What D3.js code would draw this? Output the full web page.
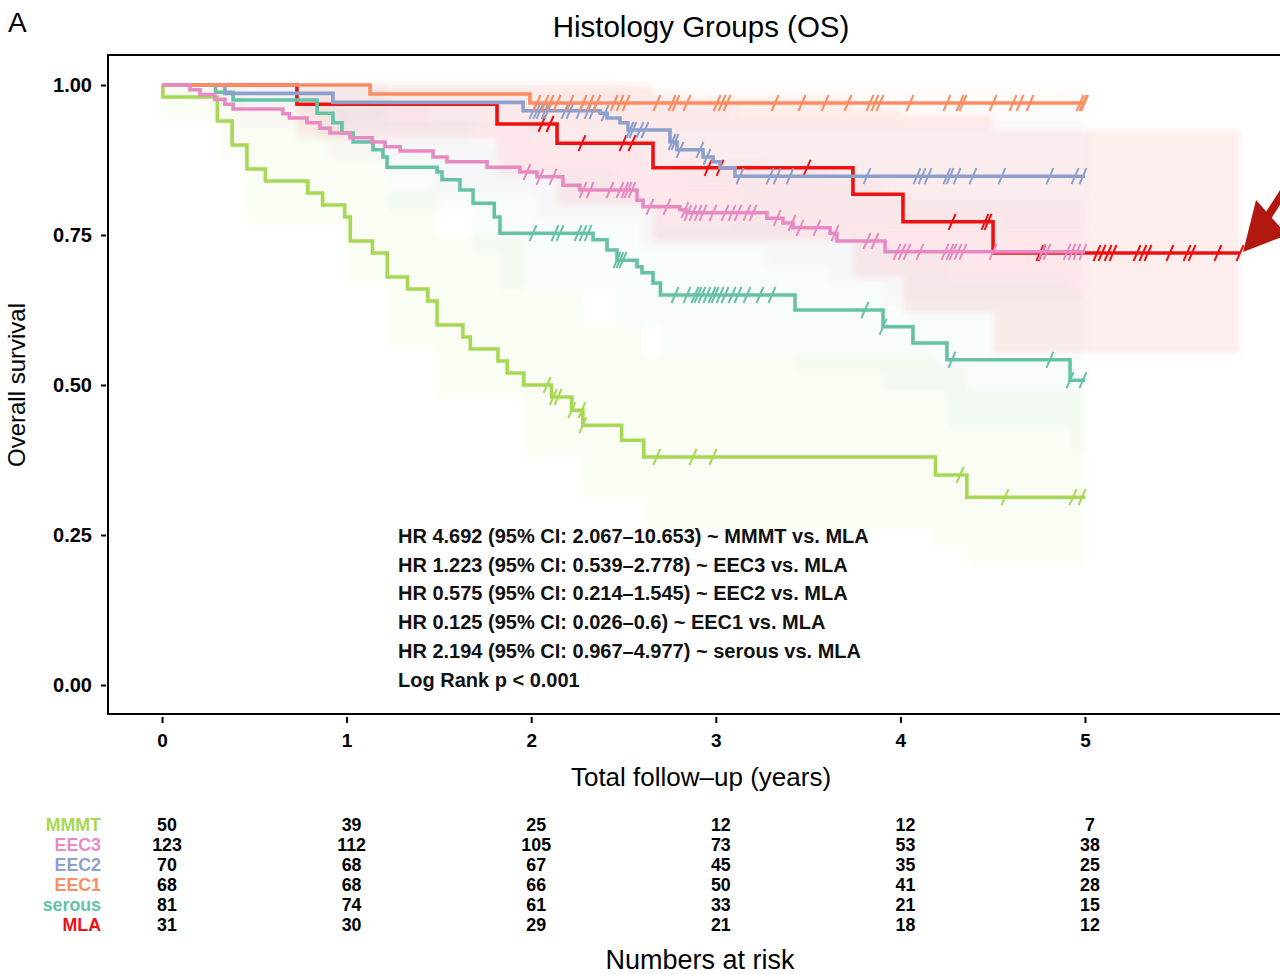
<!DOCTYPE html>
<html>
<head>
<meta charset="utf-8">
<script src="https://cdn.jsdelivr.net/npm/d3@7"></script>
<style>
  html, body { margin: 0; padding: 0; background: #fff; }
  svg { display: block; font-family: "Liberation Sans", Arial, Helvetica, sans-serif; }
</style>
</head>
<body>
<svg id="chart" width="1280" height="974"></svg>
<script>
// ---- groups and colours ----
const groupNames = ["MMMT", "EEC3", "EEC2", "EEC1", "serous", "MLA"];
const groupColors = ["#a6d854", "#e78ac3", "#8da0cb", "#fc8d62", "#66c2a5", "#ee1111"];
const groupEnd = [5.0, 5.0, 5.0, 5.0, 5.0, 5.84];
// drawing order of the curves, bottom to top (indices into groupNames)
const drawOrder = [5, 0, 4, 2, 3, 1];

// ---- Kaplan-Meier steps: [time (years), survival after the event] ----
const stepsMMMT = [[0.005,0.98],[0.30,0.94],[0.38,0.90],[0.46,0.86],[0.56,0.84],[0.79,0.82],[0.87,0.80],
  [0.99,0.78],[1.02,0.74],[1.14,0.72],[1.22,0.68],[1.33,0.66],[1.44,0.64],[1.49,0.60],[1.63,0.58],
  [1.67,0.56],[1.82,0.54],[1.87,0.52],[1.96,0.50],[2.11,0.48],[2.22,0.458],[2.28,0.433],[2.49,0.408],
  [2.61,0.38],[4.19,0.35],[4.36,0.313]];
const stepsEEC3 = [[0.152,0.992],[0.206,0.984],[0.287,0.976],[0.341,0.968],[0.385,0.96],[0.655,0.952],
  [0.69,0.945],[0.785,0.937],[0.856,0.928],[0.91,0.92],[1.018,0.912],[1.138,0.905],[1.208,0.897],
  [1.29,0.89],[1.468,0.88],[1.544,0.872],[1.761,0.863],[1.939,0.855],[2.031,0.847],[2.172,0.833],
  [2.264,0.825],[2.573,0.808],[2.606,0.797],[2.806,0.792],[2.839,0.787],[3.277,0.778],[3.364,0.77],
  [3.418,0.762],[3.619,0.753],[3.656,0.74],[3.917,0.722]];
const stepsEEC2 = [[0.341,0.986],[0.926,0.971],[1.956,0.957],[2.373,0.953],[2.411,0.945],[2.481,0.937],
  [2.524,0.925],[2.752,0.905],[2.79,0.892],[2.931,0.88],[2.985,0.872],[3.023,0.862],[3.104,0.848]];
const stepsEEC1 = [[1.127,0.985],[1.993,0.97]];
const stepsSerous = [[0.29,0.988],[0.385,0.975],[0.84,0.953],[0.926,0.937],[0.975,0.92],[1.035,0.905],
  [1.143,0.892],[1.197,0.88],[1.219,0.863],[1.49,0.855],[1.517,0.842],[1.614,0.825],[1.685,0.803],
  [1.80,0.78],[1.831,0.753],[2.335,0.742],[2.411,0.725],[2.465,0.708],[2.573,0.697],[2.60,0.687],
  [2.66,0.67],[2.70,0.65],[3.429,0.625],[3.906,0.597],[4.068,0.57],[4.252,0.542],[4.919,0.508]];
const stepsMLA = [[0.731,0.968],[1.815,0.935],[2.14,0.903],[2.66,0.862],[3.743,0.818],[4.014,0.772],[4.502,0.72]];

// ---- censoring times (years) ----
const censorMMMT = [2.086,2.12,2.145,2.22,2.275,2.28,2.68,2.876,2.985,4.323,4.567,4.935,4.984];
const censorEEC3 = [1.977,2.048,2.118,2.281,2.319,2.427,2.481,2.508,2.524,2.546,2.643,2.735,2.833,2.849,
  2.876,2.904,2.931,2.985,3.05,3.088,3.12,3.169,3.202,3.332,3.413,3.456,3.548,3.646,3.819,3.862,3.982,
  4.009,4.036,4.106,4.242,4.269,4.285,4.312,4.339,4.502,4.767,4.794,4.903,4.93,4.957,4.989];
const censorEEC2 = [2.01,2.031,2.048,2.075,2.091,2.183,2.21,2.264,2.308,2.335,2.4,2.535,2.551,2.589,2.616,
  2.763,2.779,2.806,2.914,2.952,3.131,3.294,3.332,3.402,3.819,4.09,4.117,4.15,4.252,4.269,4.307,4.393,
  4.55,4.81,4.946,4.989];
const censorEEC1 = [2.031,2.075,2.102,2.14,2.21,2.281,2.319,2.356,2.449,2.481,2.514,2.681,2.763,2.784,2.844,
  3.007,3.034,3.061,3.321,3.467,3.592,3.716,3.835,3.862,3.889,4.052,4.252,4.323,4.339,4.502,4.61,4.648,
  4.702,4.973,4.989,4.998];
const censorSerous = [2.01,2.129,2.156,2.254,2.281,2.308,2.465,2.481,2.497,2.779,2.844,2.887,2.903,2.925,
  2.952,2.979,2.996,3.023,3.05,3.088,3.12,3.169,3.239,3.304,3.808,3.906,4.279,4.81,4.919,4.989];
const censorMLA = [2.058,2.102,2.275,2.497,2.546,2.958,3.023,3.494,4.28,4.458,4.475,4.756,4.767,5.065,5.092,
  5.125,5.152,5.282,5.314,5.341,5.46,5.553,5.58,5.72,5.84];

// ---- 95% confidence bands: [time, lower, upper] ----
const bandMMMT = [[0,1,1],[0.005,0.94,1],[0.30,0.88,1],[0.46,0.77,0.96],[0.99,0.67,0.90],[1.22,0.56,0.82],
  [1.49,0.48,0.75],[1.96,0.38,0.66],[2.28,0.31,0.60],[2.61,0.26,0.55],[4.19,0.23,0.53],[4.36,0.20,0.49]];
const bandEEC3 = [[0,1,1],[0.152,0.976,1],[0.385,0.93,0.99],[0.91,0.875,0.965],[1.468,0.82,0.94],
  [2.031,0.78,0.91],[2.606,0.73,0.87],[3.277,0.70,0.86],[3.619,0.67,0.84],[3.917,0.64,0.81]];
const bandEEC2 = [[0,1,1],[0.341,0.96,1],[0.926,0.93,1],[1.956,0.91,1],[2.524,0.87,0.99],[2.79,0.83,0.97],
  [3.104,0.76,0.94]];
const bandEEC1 = [[0,1,1],[1.127,0.957,1],[1.993,0.93,1]];
const bandSerous = [[0,1,1],[0.29,0.96,1],[0.84,0.91,1],[1.219,0.79,0.94],[1.685,0.72,0.90],
  [1.831,0.66,0.86],[2.465,0.60,0.81],[2.70,0.55,0.77],[3.429,0.52,0.75],[3.906,0.49,0.73],
  [4.252,0.43,0.68],[4.919,0.39,0.66]];
const bandMLA = [[0,1,1],[0.731,0.91,1],[1.815,0.85,1],[2.14,0.80,1],[2.66,0.74,0.98],[3.743,0.68,0.96],
  [4.014,0.62,0.95],[4.502,0.553,0.925]];
const bandOpacity = [0.06, 0.05, 0.035, 0.03, 0.045, 0.07];

// ---- axis ticks and risk table ----
const xTicks = [0, 1, 2, 3, 4, 5];
const yTicks = [0, 0.25, 0.5, 0.75, 1];
const riskMMMT = [50, 39, 25, 12, 12, 7];
const riskEEC3 = [123, 112, 105, 73, 53, 38];
const riskEEC2 = [70, 68, 67, 45, 35, 25];
const riskEEC1 = [68, 68, 66, 50, 41, 28];
const riskSerous = [81, 74, 61, 33, 21, 15];
const riskMLA = [31, 30, 29, 21, 18, 12];

const hrLines = [
  "HR 4.692 (95% CI: 2.067\u201310.653) ~ MMMT vs. MLA",
  "HR 1.223 (95% CI: 0.539\u20132.778) ~ EEC3 vs. MLA",
  "HR 0.575 (95% CI: 0.214\u20131.545) ~ EEC2 vs. MLA",
  "HR 0.125 (95% CI: 0.026\u20130.6) ~ EEC1 vs. MLA",
  "HR 2.194 (95% CI: 0.967\u20134.977) ~ serous vs. MLA",
  "Log Rank p < 0.001"
];

const allSteps = [stepsMMMT, stepsEEC3, stepsEEC2, stepsEEC1, stepsSerous, stepsMLA];
const allCensor = [censorMMMT, censorEEC3, censorEEC2, censorEEC1, censorSerous, censorMLA];
const allBands = [bandMMMT, bandEEC3, bandEEC2, bandEEC1, bandSerous, bandMLA];
const allRisk = [riskMMMT, riskEEC3, riskEEC2, riskEEC1, riskSerous, riskMLA];

// ---- layout ----
const svg = d3.select("#chart");
const frame = { left: 108, top: 55, bottom: 714, right: 1290 };
const x = d3.scaleLinear().domain([0, 5]).range([162, 1085]);
const y = d3.scaleLinear().domain([0, 1]).range([685, 85]);

// survival value at time t from a step list
function survAt(steps, t) {
  let s = 1;
  for (const [ti, si] of steps) { if (ti <= t) s = si; else break; }
  return s;
}

const defs = svg.append("defs");
defs.append("clipPath").attr("id", "plotClip")
  .append("rect").attr("x", frame.left + 1).attr("y", frame.top + 1)
  .attr("width", frame.right - frame.left).attr("height", frame.bottom - frame.top - 2);
defs.append("filter").attr("id", "soft").attr("x", "-5%").attr("y", "-5%").attr("width", "110%").attr("height", "110%")
  .append("feGaussianBlur").attr("stdDeviation", 3);

const inner = svg.append("g").attr("clip-path", "url(#plotClip)");

// confidence bands
const area = d3.area().curve(d3.curveStepAfter)
  .x(d => x(d[0])).y0(d => y(d[1])).y1(d => y(d[2]));
const bandLayer = inner.append("g").attr("filter", "url(#soft)");
allBands.forEach((band, i) => {
  const last = band[band.length - 1];
  const pts = band.concat([[groupEnd[i], last[1], last[2]]]);
  bandLayer.append("path").attr("d", area(pts))
    .attr("fill", groupColors[i]).attr("fill-opacity", bandOpacity[i]).attr("stroke", "none");
});

// survival curves with censor marks
const line = d3.line().curve(d3.curveStepAfter).x(d => x(d[0])).y(d => y(d[1]));
drawOrder.forEach(i => {
  const steps = allSteps[i];
  const last = steps[steps.length - 1];
  const pts = [[0, 1]].concat(steps, [[groupEnd[i], last[1]]]);
  const g = inner.append("g");
  g.append("path").attr("d", line(pts))
    .attr("fill", "none").attr("stroke", groupColors[i])
    .attr("stroke-width", 3.6).attr("stroke-linejoin", "miter");
  g.selectAll("line").data(allCensor[i]).join("line")
    .attr("x1", d => x(d) - 3.5).attr("y1", d => y(survAt(steps, d)) + 8)
    .attr("x2", d => x(d) + 3.5).attr("y2", d => y(survAt(steps, d)) - 8)
    .attr("stroke", groupColors[i]).attr("stroke-width", 2);
});

// frame (open on the right)
svg.append("path")
  .attr("d", `M${frame.right},${frame.top}H${frame.left}V${frame.bottom}H${frame.right}`)
  .attr("fill", "none").attr("stroke", "#000").attr("stroke-width", 2);

// axes
const yAxis = d3.axisLeft(y).tickValues(yTicks).tickFormat(d3.format(".2f")).tickSize(5).tickPadding(9);
const yg = svg.append("g").attr("transform", `translate(${frame.left - 2},0)`).call(yAxis);
yg.select(".domain").remove();
yg.selectAll(".tick line").attr("stroke", "#000").attr("stroke-width", 2);
yg.selectAll(".tick text").attr("font-size", 20).attr("font-weight", "bold").attr("fill", "#000")
  .attr("font-family", "Liberation Sans, Arial, sans-serif");

const xAxis = d3.axisBottom(x).tickValues(xTicks).tickFormat(d3.format("d")).tickSize(6).tickPadding(11);
const xg = svg.append("g").attr("transform", `translate(0,${frame.bottom + 3})`).call(xAxis);
xg.select(".domain").remove();
xg.selectAll(".tick line").attr("stroke", "#000").attr("stroke-width", 2);
xg.selectAll(".tick text").attr("font-size", 19).attr("font-weight", "bold").attr("fill", "#000")
  .attr("font-family", "Liberation Sans, Arial, sans-serif");

// titles
svg.append("text").attr("x", 8).attr("y", 32).attr("font-size", 28).text("A");
svg.append("text").attr("x", 701).attr("y", 37).attr("text-anchor", "middle")
  .attr("font-size", 29.5).text("Histology Groups (OS)");
svg.append("text").attr("transform", "translate(25,385) rotate(-90)").attr("text-anchor", "middle")
  .attr("font-size", 24).text("Overall survival");
svg.append("text").attr("x", 701).attr("y", 786).attr("text-anchor", "middle")
  .attr("font-size", 26).text("Total follow\u2013up (years)");

// hazard ratio annotations
svg.append("g").selectAll("text").data(hrLines).join("text")
  .attr("x", 398).attr("y", (d, i) => 543 + i * 28.7)
  .attr("font-size", 20).attr("font-weight", "bold").attr("fill", "#111")
  .text(d => d);

// risk table
const rowY = i => 831 + i * 20;
svg.append("g").selectAll("text").data(groupNames).join("text")
  .attr("x", 101).attr("y", (d, i) => rowY(i)).attr("text-anchor", "end")
  .attr("font-size", 17.8).attr("font-weight", "bold").attr("fill", (d, i) => groupColors[i])
  .text(d => d);
allRisk.forEach((row, i) => {
  svg.append("g").selectAll("text").data(row).join("text")
    .attr("x", (d, j) => x(xTicks[j]) + 5).attr("y", rowY(i)).attr("text-anchor", "middle")
    .attr("font-size", 17.8).attr("font-weight", "bold").attr("fill", "#000")
    .text(d => d);
});
svg.append("text").attr("x", 700).attr("y", 969).attr("text-anchor", "middle")
  .attr("font-size", 27).text("Numbers at risk");

// pointer arrow towards the MLA curve end
const tip = [x(5.84) + 3, y(0.72) - 1];
svg.append("line").attr("x1", 1300).attr("y1", 166).attr("x2", tip[0] + 20).attr("y2", tip[1] - 28)
  .attr("stroke", "#b2180f").attr("stroke-width", 8);
svg.append("path")
  .attr("d", `M${tip[0]},${tip[1]}L${tip[0] + 13},${tip[1] - 52}L${tip[0] + 44},${tip[1] - 17}Z`)
  .attr("fill", "#b2180f");
</script>
</body>
</html>
